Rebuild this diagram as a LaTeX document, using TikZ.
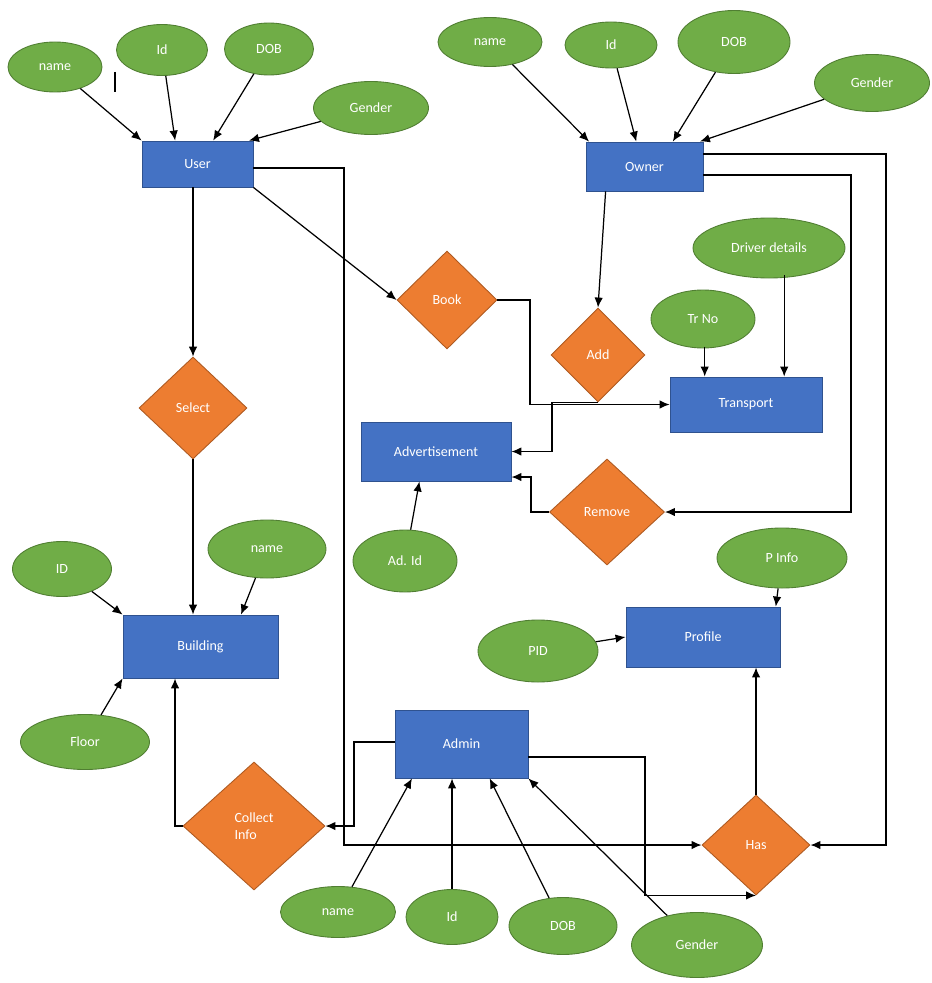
\documentclass[tikz,border=0pt]{standalone}
\usepackage{fontspec}
\setmainfont{Carlito}
\usetikzlibrary{shapes.geometric, arrows.meta, calc}

\definecolor{entblue}{HTML}{4472C4}
\definecolor{entline}{HTML}{2F528F}
\definecolor{attgreen}{HTML}{70AD47}
\definecolor{attline}{HTML}{507E32}
\definecolor{relorange}{HTML}{ED7D31}
\definecolor{relline}{HTML}{AE5A21}

\begin{document}
\begin{tikzpicture}[x=0.02cm, y=-0.02cm, line width=0.7pt,
        >={Latex[length=2mm,width=1.7mm]},
        every node/.style={font=\fontsize{8}{10}\selectfont, text=white},
        entity/.style 2 args={rectangle, draw=entline, line width=0.5pt, fill=entblue,
            minimum width=#1*0.02cm, minimum height=#2*0.02cm},
        attr/.style 2 args={ellipse, draw=attline, line width=0.5pt, fill=attgreen,
            minimum width=#1*0.02cm, minimum height=#2*0.02cm, inner sep=1pt},
        rel/.style 2 args={diamond, draw=relline, line width=0.5pt, fill=relorange,
            minimum width=#1*0.02cm, minimum height=#2*0.02cm, inner sep=1pt}]
        \useasboundingbox (0,0) rectangle (931,983);

        % entities
        \node[entity={111}{46}] (user) at (197.5,164) {User};
        \node[entity={117}{49}] (owner) at (644.5,166.5) {Owner};
        \node[entity={152}{55}] (transport) at (746,404.5) {Transport};
        \node[entity={150}{59}] (advert) at (436,451.5) {Advertisement};
        \node[entity={155}{63}] (building) at (200.5,646.5) {Building};
        \node[entity={154}{60}] (profile) at (703,637) {Profile};
        \node[entity={133}{68}] (admin) at (461.5,744) {Admin};

        % relations
        \node[rel={100}{98}] (book) at (447,300) {Book};
        \node[rel={94}{94}] (add) at (598,355) {Add};
        \node[rel={108}{102}] (select) at (193,408) {Select};
        \node[rel={115}{106}] (remove) at (607,512) {Remove};
        \node[rel={108}{100}] (has) at (756,845) {Has};
        \node[rel={142}{128}, align=left] (collect) at (254,826) {Collect\\Info};

        % attributes
        \node[attr={94}{50}] (uname) at (55,67) {name};
        \node[attr={91}{51}] (uid) at (162,50) {Id};
        \node[attr={89}{52}] (udob) at (269,49) {DOB};
        \node[attr={115}{53}] (ugender) at (371,108) {Gender};
        \node[attr={104}{49}] (oname) at (490,42) {name};
        \node[attr={92}{46}] (oid) at (611,45) {Id};
        \node[attr={112}{63}] (odob) at (734,42) {DOB};
        \node[attr={115}{57}] (ogender) at (872,83) {Gender};
        \node[attr={152}{60}] (driver) at (769,248) {Driver details};
        \node[attr={104}{58}] (trno) at (703,319) {Tr No};
        \node[attr={104}{62}] (adid) at (405,561) {Ad. Id};
        \node[attr={99}{55}] (bid) at (62,569) {ID};
        \node[attr={118}{58}] (bname) at (267,549) {name};
        \node[attr={129}{55}] (floor) at (85,742) {Floor};
        \node[attr={130}{60}] (pinfo) at (782,558) {P Info};
        \node[attr={120}{62}] (pid) at (538,651) {PID};
        \node[attr={115}{51}] (aname) at (338,912) {name};
        \node[attr={92}{55}] (aid) at (452,917) {Id};
        \node[attr={108}{57}] (adob) at (563,926) {DOB};
        \node[attr={131}{65}] (agender) at (697,945) {Gender};

        \draw[line width=0.6pt] (115,72) -- (115,92);

        % bends
        \coordinate (c1) at (886,154);
        \coordinate (c2) at (851,175);
        \coordinate (c3) at (344,168);
        \coordinate (c4) at (530,404.5);
        \coordinate (c5) at (552,451.5);
        \coordinate (c6) at (531,477);
        \coordinate (c7) at (175,826);
        \coordinate (c8) at (354,742);
        \coordinate (c9) at (645,757);
        \coordinate (t1) at ($(transport.north west)!0.23!(transport.north east)$);
        \coordinate (t2) at ($(transport.north west)!0.75!(transport.north east)$);

        \draw[->] (uname) -- (user.north west);
        \draw[->] (uid) -- ($(user.north west)!0.3!(user.north east)$);
        \draw[->] (udob) -- ($(user.north west)!0.64!(user.north east)$);
        \draw[->] (ugender) -- ($(user.north west)!0.96!(user.north east)$);
        \draw[->] (oname) -- ($(owner.north west)!0.03!(owner.north east)$);
        \draw[->] (oid) -- ($(owner.north west)!0.43!(owner.north east)$);
        \draw[->] (odob) -- ($(owner.north west)!0.74!(owner.north east)$);
        \draw[->] (ogender) -- ($(owner.north west)!0.97!(owner.north east)$);

        \draw[->] (user.south -| select.north) -- (select.north);
        \draw[->] (select.south) -- (building.north -| select.south);
        \draw[->] (user.south east) -- (book.west);
        \draw[->] (user.east |- c3) -- (c3) |- (has.west);
        \draw[->] ($(owner.south west)!0.17!(owner.south east)$) -- (add.north);
        \draw[->] (owner.east |- c1) -- (c1) |- (has.east);
        \draw[->] (owner.east |- c2) -- (c2) |- (remove.east);
        \draw[->] (book.east) -| (c4) -- (transport.west);
        \draw[->] (add.south) -| (c5) -- (advert.east);
        \draw[->] (remove.west) -| (c6) -- (advert.east |- c6);

        \draw[->] ([yshift=1pt]trno.south -| t1) -- (t1);
        \draw[->] ([yshift=2pt]driver.south -| t2) -- (t2);
        \draw[->] (adid) -- ($(advert.south west)!0.39!(advert.south east)$);

        \draw[->] (bid) -- (building.north west);
        \draw[->] (bname) -- ($(building.north west)!0.76!(building.north east)$);
        \draw[->] (floor) -- (building.south west);
        \draw[->] (collect.west) -- (c7) -- (building.south -| c7);

        \draw[->] (admin.west |- c8) -- (c8) |- (collect.east);
        \draw[->] (admin.east |- c9) -- (c9) |- (has.south);
        \draw[->] (has.north) -- (profile.south -| has.north);
        \draw[->] (pinfo) -- ($(profile.north west)!0.97!(profile.north east)$);
        \draw[->] (pid) -- (profile.west);

        \draw[->] (aname) -- ($(admin.south west)!0.13!(admin.south east)$);
        \draw[->] (aid) -- (admin.south -| aid);
        \draw[->] (adob) -- ($(admin.south west)!0.71!(admin.south east)$);
        \draw[->] (agender) -- (admin.south east);
    \end{tikzpicture}
\end{document}
